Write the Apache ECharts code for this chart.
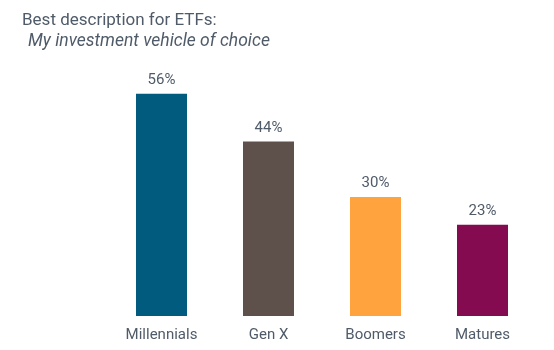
<!DOCTYPE html>
<html>
<head>
<meta charset="utf-8">
<script src="https://cdn.jsdelivr.net/npm/echarts@6/dist/echarts.min.js"></script>
<style>
  html, body { margin: 0; padding: 0; background: #fff; }
  #chart { width: 554px; height: 350px; }
</style>
</head>
<body>
<div id="chart"></div>
<script>
var categories = ['Millennials', 'Gen X', 'Boomers', 'Matures'];
var values = [56, 44, 30, 23];
var barColors = ['#005b7f', '#5e504b', '#ffa33f', '#850b50'];

var textColor = '#4f5b69';
var myChart = echarts.init(document.getElementById('chart'));

myChart.setOption({
  backgroundColor: '#ffffff',
  animation: false,
  title: [{
    text: 'Best description for ETFs:',
    left: 17,
    top: 7,
    textStyle: {
      fontFamily: 'Roboto',
      fontSize: 17,
      fontWeight: 'normal',
      color: textColor
    }
  }, {
    text: 'My investment vehicle of choice',
    left: 23,
    top: 28,
    textStyle: {
      fontFamily: 'Roboto',
      fontSize: 17.5,
      fontStyle: 'italic',
      fontWeight: 'normal',
      color: textColor
    }
  }],
  grid: {
    left: 108,
    right: 18,
    top: 78,
    bottom: 34
  },
  xAxis: {
    type: 'category',
    data: categories,
    axisLine: { show: false },
    axisTick: { show: false },
    axisLabel: {
      margin: 12,
      fontFamily: 'Roboto',
      fontSize: 15,
      color: textColor
    }
  },
  yAxis: {
    type: 'value',
    min: 0,
    max: 60,
    show: false,
    splitLine: { show: false }
  },
  series: [{
    type: 'bar',
    barWidth: 51,
    data: values.map(function (v, i) {
      return { value: v, itemStyle: { color: barColors[i] } };
    }),
    label: {
      show: true,
      position: 'top',
      distance: 6,
      formatter: '{c}%',
      fontFamily: 'Roboto',
      fontSize: 15,
      color: textColor
    }
  }]
});
</script>
</body>
</html>
